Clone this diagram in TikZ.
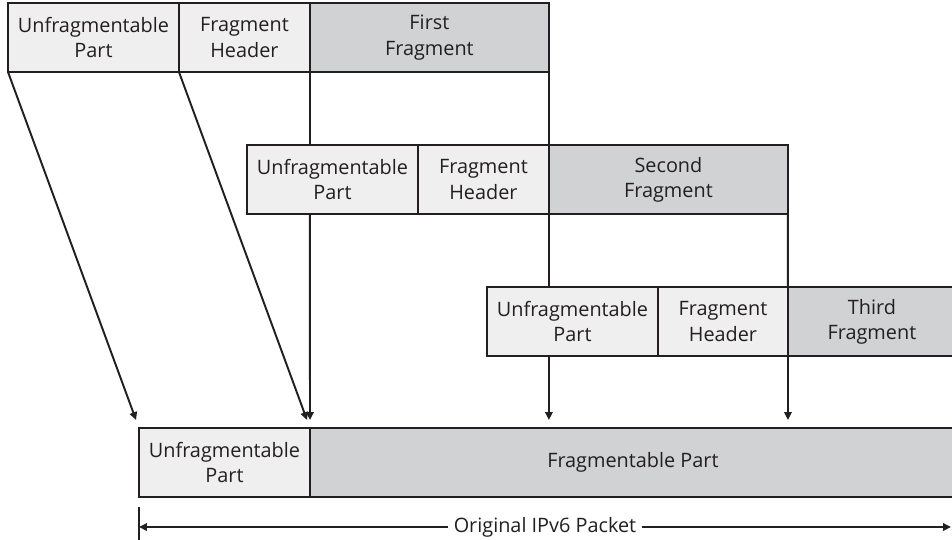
\documentclass[tikz,border=0pt]{standalone}
\usepackage{fontspec}
\setmainfont{Open Sans}
\usetikzlibrary{arrows.meta,positioning}
\definecolor{lineclr}{HTML}{231F20}
\definecolor{hdrclr}{HTML}{EFEFEF}
\definecolor{fragclr}{HTML}{D1D2D4}

\begin{document}
\begin{tikzpicture}[
  x=0.02cm, y=-0.02cm,
  every node/.style={font=\fontsize{11.3}{14.4}\selectfont, align=center, text=lineclr},
  part/.style={draw=lineclr, line width=1.1pt, inner sep=0pt, outer sep=0pt,
               minimum height=1.38cm},
  unf/.style={part, fill=hdrclr, minimum width=3.42cm},
  hdr/.style={part, fill=hdrclr, minimum width=2.62cm},
  frag/.style={part, fill=fragclr, minimum width=4.78cm},
  ln/.style={draw=lineclr, line width=1.1pt},
  arr/.style={ln, -{Triangle[length=4.5pt, width=4.2pt]}}
]
  \useasboundingbox (0,0) rectangle (952,539);

  % first fragment
  \node[unf, anchor=north west] (u1) at (8,3) {Unfragmentable\\Part};
  \node[hdr, right=0pt of u1]   (h1) {Fragment\\Header};
  \node[frag, right=0pt of h1]  (f1) {First\\Fragment};

  % second fragment
  \node[unf, anchor=north west] (u2) at (247,145) {Unfragmentable\\Part};
  \node[hdr, right=0pt of u2]   (h2) {Fragment\\Header};
  \node[frag, right=0pt of h2]  (f2) {Second\\Fragment};

  % third fragment
  \node[unf, anchor=north west] (u3) at (487,287) {Unfragmentable\\Part};
  \node[hdr, right=0pt of u3, minimum width=2.6cm] (h3) {Fragment\\Header};
  \node[frag, right=0pt of h3, minimum width=3.36cm] (f3) {Third\\Fragment};

  % original packet
  \node[unf, anchor=north west] (ub) at (139,428) {Unfragmentable\\Part};
  \node[frag, right=0pt of ub, minimum width=12.92cm] (fb) {Fragmentable Part};

  \draw[arr, shorten >=0.17cm] (u1.south west) -- (ub.north west);
  \draw[arr, shorten >=0.17cm] (h1.south west) -- (fb.north west);

  \draw[ln] (f1.south west) -- (f1.south west |- u2.north);
  \draw[arr, shorten >=0.16cm] (f1.south west |- u2.south) -- (fb.north west);

  \draw[ln] (f1.south east) -- (f1.south east |- u3.north);
  \draw[arr, shorten >=0.16cm] (f1.south east |- u3.south) -- (f1.south east |- fb.north);

  \draw[ln] (f2.south east) -- (f3.north west);
  \draw[arr, shorten >=0.16cm] (f3.south west) -- (f3.south west |- fb.north);

  % size of the original packet
  \coordinate (tickT) at (139,507);
  \coordinate (tickB) at (139,545);
  \draw[ln] (tickT) -- (tickB);
  \node[fill=white, inner sep=3pt] (total) at (545,527) {Original IPv6 Packet};
  \coordinate (endL) at (139,527);
  \coordinate (endR) at (951,527);
  \draw[arr] (total) -- (endL);
  \draw[arr] (total) -- (endR);
\end{tikzpicture}
\end{document}
